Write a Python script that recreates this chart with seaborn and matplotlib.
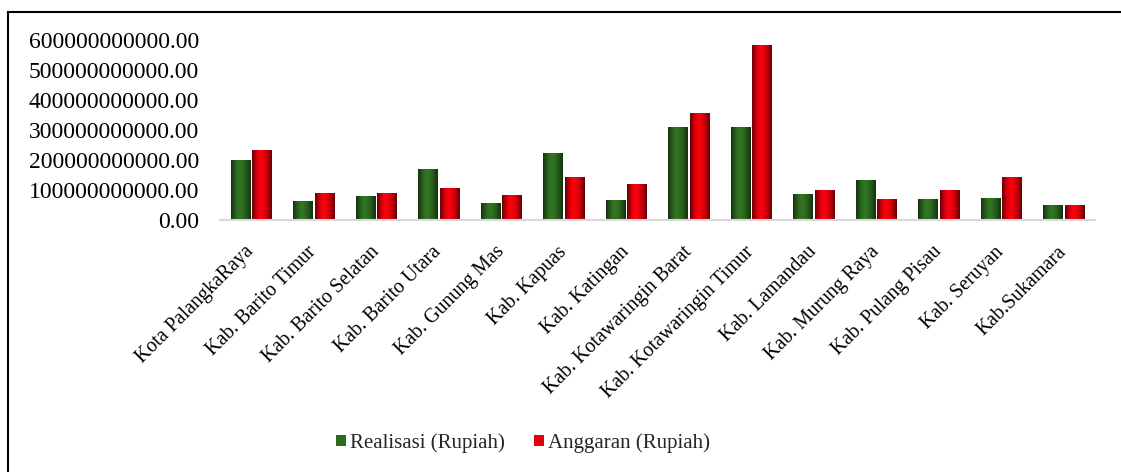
import matplotlib
matplotlib.use("Agg")
import matplotlib.pyplot as plt
import seaborn as sns
import pandas as pd
import numpy as np
from matplotlib.ticker import FuncFormatter, MultipleLocator
from matplotlib.patches import Rectangle
from matplotlib.colors import to_rgb

categories = ["Kota PalangkaRaya", "Kab. Barito Timur", "Kab. Barito Selatan", "Kab. Barito Utara",
              "Kab. Gunung Mas", "Kab. Kapuas", "Kab. Katingan", "Kab. Kotawaringin Barat",
              "Kab. Kotawaringin Timur", "Kab. Lamandau", "Kab. Murung Raya", "Kab. Pulang Pisau",
              "Kab. Seruyan", "Kab.Sukamara"]
realisasi = [197e9, 63e9, 80e9, 170e9, 56e9, 222e9, 64e9, 308e9, 308e9, 86e9, 133e9, 69e9, 73e9, 47e9]
anggaran = [233e9, 90e9, 89e9, 106e9, 83e9, 141e9, 117e9, 356e9, 581e9, 100e9, 69e9, 98e9, 141e9, 47e9]
series_names = ["Realisasi (Rupiah)", "Anggaran (Rupiah)"]
colors = ["#2d6a1f", "#e3000c"]

df = pd.DataFrame({
    "Kabupaten": categories * 2,
    "Nilai": realisasi + anggaran,
    "Seri": [series_names[0]] * len(categories) + [series_names[1]] * len(categories),
})

sns.set_theme(style="white")
plt.rcParams["font.family"] = ["Liberation Serif", "DejaVu Serif"]

fig = plt.figure(figsize=(11.21, 4.72), dpi=100)
ax = fig.add_axes([220 / 1121, 1 - 220 / 472, (1095 - 220) / 1121, 180 / 472])

sns.barplot(data=df, x="Kabupaten", y="Nilai", hue="Seri", palette=colors, ax=ax,
            width=0.68, gap=0.08, saturation=1, edgecolor="none", errorbar=None)

ax.set_ylim(0, 600e9)
ax.set_xlim(-0.5, len(categories) - 0.5)

# cylinder-like shading over each bar
profile = np.array([0.45, 0.75, 1.0, 1.12, 1.05, 0.9, 0.7, 0.45])
xs = np.linspace(0, 1, 64)
shade = np.interp(xs, np.linspace(0, 1, len(profile)), profile)
for patch in list(ax.patches):
    w = patch.get_width()
    h = patch.get_height()
    if h <= 0:
        continue
    x0 = patch.get_x()
    base = np.array(to_rgb(patch.get_facecolor()))
    img = np.clip(base[None, None, :] * shade[None, :, None], 0, 1)
    ax.imshow(img, extent=(x0, x0 + w, 0, h), aspect="auto", origin="lower",
              zorder=patch.get_zorder() + 0.1, interpolation="bilinear")
ax.set_xlim(-0.5, len(categories) - 0.5)
ax.set_ylim(0, 600e9)

ax.yaxis.set_major_locator(MultipleLocator(100e9))
ax.yaxis.set_major_formatter(FuncFormatter(lambda v, p: f"{v:.2f}"))
ax.set_xlabel("")
ax.set_ylabel("")
ax.tick_params(axis="y", labelsize=17, length=0, pad=15, colors="black")
ax.tick_params(axis="x", labelsize=14.3, length=0, pad=21, colors="black")
plt.setp(ax.get_xticklabels(), rotation=45, ha="right", va="center", rotation_mode="anchor")
for s in ["top", "right", "left"]:
    ax.spines[s].set_visible(False)
ax.spines["bottom"].set_color("#d9d9d9")
ax.spines["bottom"].set_linewidth(1.5)
ax.spines["bottom"].set_zorder(5)

ax.legend_.remove()
handles, labels = ax.get_legend_handles_labels()
fig.legend(handles, labels, loc="center", bbox_to_anchor=(523 / 1121, 1 - 443 / 472),
           ncol=2, frameon=False, fontsize=15, handlelength=0.5, handleheight=0.5,
           handletextpad=0.2, columnspacing=1.35)

fig.patches.append(Rectangle((8 / 1121, -0.2), 1.2, 1 - 12 / 472 + 0.2, transform=fig.transFigure,
                             fill=False, edgecolor="black", linewidth=1.5))

fig.savefig("out.png", dpi=100)
